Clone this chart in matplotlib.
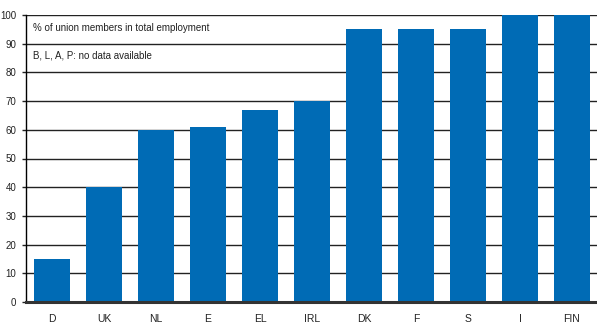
# union_density.py
# Union members as a share of total employment, by country (bar chart).
import matplotlib
matplotlib.use("Agg")
import matplotlib.pyplot as plt

# --- Data ---
COUNTRIES = ["D", "UK", "NL", "E", "EL", "IRL", "DK", "F", "S", "I", "FIN"]
UNION_SHARE = [15, 40, 60, 61, 67, 70, 95, 95, 95, 100, 100]
Y_TICKS = [0, 10, 20, 30, 40, 50, 60, 70, 80, 90, 100]

BAR_COLOR = "#006bb5"

plt.rcParams["font.family"] = ["Liberation Sans", "DejaVu Sans"]


def main():
    fig = plt.figure(figsize=(5.97, 3.28), dpi=100)
    ax = fig.add_axes([26 / 597, 26 / 328, 572 / 597, 287 / 328])

    x = range(len(COUNTRIES))
    ax.bar(x, UNION_SHARE, width=0.69, color=BAR_COLOR, zorder=3)

    ax.set_xlim(-0.5, len(COUNTRIES) - 0.5)
    ax.set_ylim(0, 100)
    ax.set_yticks(Y_TICKS)
    ax.set_xticks(list(x))
    ax.set_xticklabels(COUNTRIES)

    # horizontal grid behind the bars
    ax.grid(True, axis="y", color="#222222", linewidth=1.0, zorder=0)
    ax.set_axisbelow(True)

    for side in ("right", "top"):
        ax.spines[side].set_visible(False)
    ax.spines["left"].set_color("black")
    ax.spines["left"].set_linewidth(1.0)
    ax.spines["bottom"].set_color("#333333")
    ax.spines["bottom"].set_linewidth(2.2)
    ax.spines["bottom"].set_zorder(4)

    ax.tick_params(axis="x", length=0, pad=9, labelsize=7.5, colors="#222222")
    ax.tick_params(axis="y", length=3, width=1, pad=4, labelsize=7, colors="#222222")

    ax.text(0.013, 0.955, "% of union members in total employment",
            transform=ax.transAxes, fontsize=7, color="#222222", va="center")
    ax.text(0.013, 0.86, "B, L, A, P: no data available",
            transform=ax.transAxes, fontsize=7, color="#222222", va="center")

    fig.savefig("out.png", dpi=100)
    plt.close(fig)


if __name__ == "__main__":
    main()
